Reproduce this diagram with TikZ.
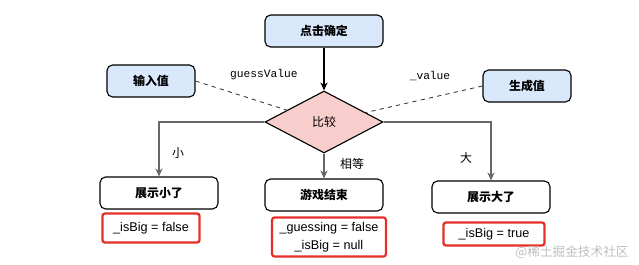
\documentclass[tikz,border=0pt]{standalone}
\usepackage{fontspec}
\setmainfont{Liberation Sans}
\setmonofont{Liberation Mono}
\newfontfamily\cjk{Noto Sans CJK SC}
\usetikzlibrary{arrows.meta, positioning, shapes.geometric}
\definecolor{cblue}{HTML}{DAE8FC}
\definecolor{cpink}{HTML}{F8CECC}
\definecolor{cred}{HTML}{E5302A}
\definecolor{cgrey}{HTML}{666666}
\tikzset{
  every picture/.style={line width=0.8pt},
  box/.style={draw=black, fill=#1, rounded corners=4pt, align=center, inner sep=2pt,
    minimum width=2.95cm, minimum height=0.8cm, font=\cjk\bfseries\fontsize{8.5}{10}\selectfont},
  box/.default=white,
  arrow/.style={-{Stealth[length=2mm, width=1.8mm]}, draw=black},
  branch/.style={arrow, draw=cgrey},
  link/.style={dashed, line width=0.6pt, draw=black!80},
  code/.style={draw=cred, line width=1.6pt, rounded corners=2pt, align=center, inner sep=2pt,
    font=\fontsize{9}{13}\selectfont},
  lbl/.style={font=\ttfamily\fontsize{8}{10}\selectfont},
  cn/.style={font=\cjk\fontsize{8.5}{10}\selectfont},
}
\begin{document}
\begin{tikzpicture}[x=0.025cm, y=-0.025cm,
  cmpbox/.style={diamond, draw=black, fill=cpink, aspect=1.9, inner sep=0pt,
    minimum width=2.95cm, minimum height=1.55cm, font=\cjk\fontsize{8.5}{10}\selectfont},
  wmark/.style={font=\cjk\fontsize{9}{10}\selectfont, text=black!25}]
  \useasboundingbox (0,0) rectangle (639,264);
  % ---- top ----
  \node[box=cblue] (ok) at (324,31) {点击确定};
  \node[box=cblue, minimum width=2.2cm] (input) at (151,81) {输入值};
  \node[box=cblue, minimum width=2.2cm] (gen) at (527,86) {生成值};
  \node[cmpbox] (cmp) at (324,122) {比较};
  \draw[arrow] (ok) -- (cmp);
  \draw[link] (input.east) -- (cmp);
  \draw[link] (gen.west) -- (cmp);
  \node[lbl] (gv) at (264,75) {guessValue};
  \node[lbl] (v) at (430,76) {\_value};
  % ---- branches ----
  \node[box] (small) at (159,193) {展示小了};
  \node[box] (over) at (324,195) {游戏结束};
  \node[box] (big) at (491,197) {展示大了};
  \draw[branch] (cmp.west) -| (small.north);
  \draw[branch] (cmp.south) -- (over.north);
  \draw[branch] (cmp.east) -| (big.north);
  \node[cn] (ls) at (178,153) {小};
  \node[cn] (le) at (352,164) {相等};
  \node[cn] (lb) at (466,158) {大};
  % ---- state ----
  \node[code, minimum width=2.43cm, minimum height=0.73cm] (cs) at (151,228) {\_isBig = false};
  \node[code, minimum width=2.85cm, minimum height=0.98cm] (ce) at (329,237) {\_guessing = false\\\_isBig = null};
  \node[code, minimum width=2.53cm, minimum height=0.58cm] (cb) at (494,234) {\_isBig = true};
  \node[wmark] (wm) at (572,252) {@稀土掘金技术社区};
\end{tikzpicture}
\end{document}
